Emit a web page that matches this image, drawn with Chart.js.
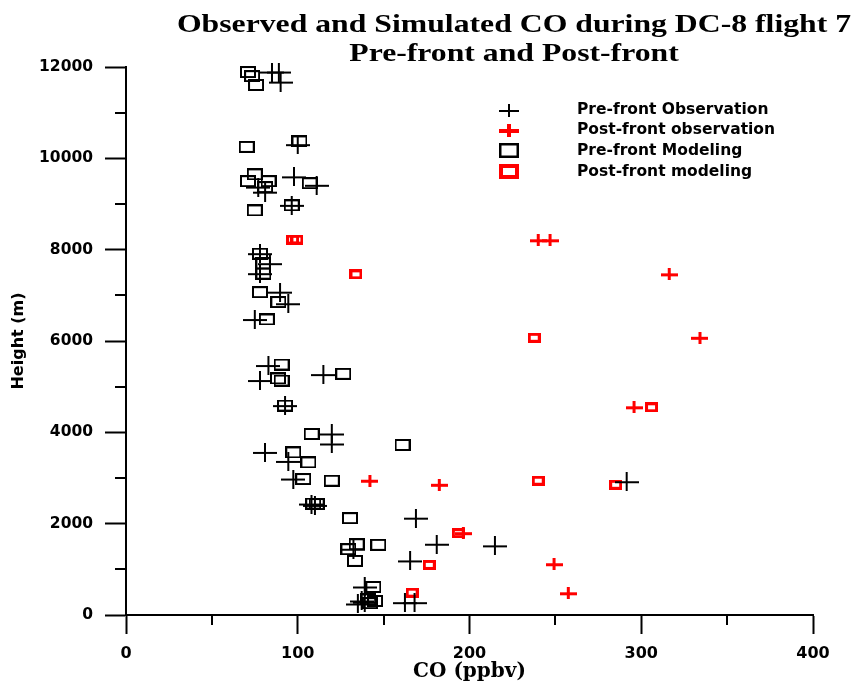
<!DOCTYPE html>
<html>
<head>
<meta charset="utf-8">
<title>Observed and Simulated CO during DC-8 flight 7</title>
<script src="https://cdn.jsdelivr.net/npm/chart.js@4.4.1/dist/chart.umd.min.js"></script>
<style>
  html, body { margin: 0; padding: 0; background: #ffffff; }
  #c { display: block; }
</style>
</head>
<body>
<canvas id="c" width="857" height="684"></canvas>
<script>
// ---- Data: CO mixing ratio (ppbv) against height (m) ----
const preObsCO     = [85, 89, 90, 100, 97.8, 111, 77, 81, 96.5, 78, 83.8, 78, 89.7, 94.5, 75,
                      82.9, 78, 114.9, 92.6, 119.8, 119.8, 80.9, 94.5, 97.4, 108, 110, 168.8,
                      132.4, 180.9, 214.8, 165.4, 139, 137.2, 139, 135, 162.4, 168, 291.5];
const preObsHeight = [11890, 11890, 11670, 10300, 9594, 9410, 9370, 9260, 8970, 7913, 7694, 7475, 7070, 6817, 6470,
                      5463, 5134, 5265, 4585, 3964, 3745, 3561, 3364, 2977, 2430, 2400, 2120,
                      1441, 1550, 1514, 1185, 614, 307, 280, 241, 270, 270, 2918];

const postObsCO     = [240, 246.9, 316.3, 334.2, 295.8, 142, 182.4, 196.4, 249.2, 257.5];
const postObsHeight = [8205, 8205, 7459, 6070, 4548, 2940, 2852, 1792, 1112, 476];

const preModCO     = [71, 73.4, 75.7, 101, 70.3, 71, 75, 81, 83, 107, 75, 96.5, 78, 80, 80, 78, 88.7, 82,
                      90.6, 90.6, 88.5, 126.5, 92.6, 108.1, 161, 97.4, 106.2, 103.2, 119.8, 109, 111, 130.4,
                      129.5, 134.3, 146.9, 133.3, 144, 141, 145, 142];
const preModHeight = [11890, 11800, 11606, 10370, 10250, 9500, 9650, 9370, 9500, 9455, 8860, 8970, 7913, 7700, 7475, 7070, 6853, 6472,
                      5485, 5134, 5180, 5281, 4585, 3964, 3723, 3561, 3342, 2977, 2940, 2440, 2430, 2120,
                      1441, 1550, 1536, 1185, 614, 344, 307, 260];

const postModCO     = [97, 99.5, 133.9, 237.7, 306, 240, 285.1, 193.5, 176.6, 166.6];
const postModHeight = [8220, 8220, 7459, 6070, 4548, 2940, 2852, 1792, 1097, 489];

const seriesLabels = ['Pre-front Observation', 'Post-front observation', 'Pre-front Modeling', 'Post-front modeling'];
const titleLines   = ['Observed and Simulated CO during DC-8 flight 7', 'Pre-front and Post-front'];

const xMajorTicks = [0, 100, 200, 300, 400];
const xMinorTicks = [50, 150, 250, 350];
const yMajorTicks = [0, 2000, 4000, 6000, 8000, 10000, 12000];
const yMinorTicks = [1000, 3000, 5000, 7000, 9000, 11000];

// ---- Marker images ----
function crossMarker(w, h, lw, color) {
  const c = document.createElement('canvas');
  c.width = w; c.height = h;
  const g = c.getContext('2d');
  g.fillStyle = color;
  g.fillRect(0, Math.round((h - lw) / 2), w, lw);
  g.fillRect(Math.round((w - lw) / 2), 0, lw, h);
  return c;
}
function boxMarker(w, h, lw, color) {
  const c = document.createElement('canvas');
  c.width = w; c.height = h;
  const g = c.getContext('2d');
  g.strokeStyle = color;
  g.lineWidth = lw;
  g.strokeRect(lw / 2, lw / 2, w - lw, h - lw);
  return c;
}

const RED = '#ff0000';
const BLACK = '#000000';

const plotMarkers = [
  crossMarker(24, 19, 2, BLACK),
  crossMarker(17, 12, 3, RED),
  boxMarker(16, 12, 2, BLACK),
  boxMarker(13, 10, 3, RED)
];
const keyMarkers = [
  crossMarker(20, 13, 2, BLACK),
  crossMarker(20, 13, 4, RED),
  boxMarker(20, 15, 2.5, BLACK),
  boxMarker(20, 15, 4, RED)
];

function toPoints(xs, ys) { return xs.map((v, i) => ({ x: v, y: ys[i] })); }

// ---- Plugins: title, key, minor ticks ----
const headerPlugin = {
  id: 'header',
  afterDraw(chart) {
    const ctx = chart.ctx;
    ctx.save();
    ctx.fillStyle = BLACK;
    ctx.font = 'bold 26px "Liberation Serif", "Times New Roman", serif';
    ctx.textAlign = 'center';
    ctx.textBaseline = 'middle';
    const rows = [25, 54];
    titleLines.forEach((t, i) => {
      ctx.save();
      ctx.translate(514, rows[i]);
      ctx.scale(1.22, 1);
      ctx.fillText(t, 0, 0);
      ctx.restore();
    });
    ctx.restore();
  }
};

const keyPlugin = {
  id: 'key',
  afterDraw(chart) {
    const ctx = chart.ctx;
    const rows = [110, 130, 150.5, 171.5];
    ctx.save();
    ctx.fillStyle = BLACK;
    ctx.font = 'bold 15.5px "DejaVu Sans", sans-serif';
    ctx.textAlign = 'left';
    ctx.textBaseline = 'middle';
    chart.data.datasets.forEach((ds, i) => {
      const m = keyMarkers[i];
      ctx.drawImage(m, Math.round(509 - m.width / 2), Math.round(rows[i] - m.height / 2));
      ctx.fillText(ds.label, 577, rows[i]);
    });
    ctx.restore();
  }
};

const minorTickPlugin = {
  id: 'minorTicks',
  afterDraw(chart) {
    const { ctx, scales: { x, y } } = chart;
    ctx.save();
    ctx.strokeStyle = BLACK;
    ctx.lineWidth = 2;
    xMinorTicks.forEach(v => {
      const px = Math.round(x.getPixelForValue(v));
      ctx.beginPath(); ctx.moveTo(px, x.top); ctx.lineTo(px, x.top + 10); ctx.stroke();
    });
    yMinorTicks.forEach(v => {
      const py = Math.round(y.getPixelForValue(v));
      ctx.beginPath(); ctx.moveTo(y.right, py); ctx.lineTo(y.right - 11, py); ctx.stroke();
    });
    ctx.restore();
  }
};

const tickFont = { family: '"DejaVu Sans", sans-serif', size: 16, weight: 'bold' };

new Chart(document.getElementById('c'), {
  type: 'scatter',
  data: {
    datasets: [
      { label: seriesLabels[0], data: toPoints(preObsCO, preObsHeight), pointStyle: plotMarkers[0] },
      { label: seriesLabels[1], data: toPoints(postObsCO, postObsHeight), pointStyle: plotMarkers[1] },
      { label: seriesLabels[2], data: toPoints(preModCO, preModHeight), pointStyle: plotMarkers[2] },
      { label: seriesLabels[3], data: toPoints(postModCO, postModHeight), pointStyle: plotMarkers[3] }
    ].map(d => Object.assign(d, { pointRadius: 6, pointHoverRadius: 6, clip: false }))
  },
  options: {
    responsive: false,
    animation: false,
    events: [],
    layout: { padding: { top: 67, right: 44, left: 0, bottom: 0 } },
    plugins: {
      legend: { display: false },
      title: { display: false },
      tooltip: { enabled: false }
    },
    scales: {
      x: {
        type: 'linear',
        min: 0, max: 400,
        afterBuildTicks: s => { s.ticks = xMajorTicks.map(v => ({ value: v })); },
        afterFit: s => { s.height = 69; },
        grid: { drawOnChartArea: false, drawTicks: true, tickLength: 19, tickWidth: 2, tickColor: BLACK },
        border: { display: true, color: BLACK, width: 2 },
        ticks: { color: BLACK, font: tickFont, padding: 10, maxRotation: 0 },
        title: {
          display: true, text: 'CO (ppbv)', color: BLACK,
          font: { family: '"DejaVu Serif", serif', size: 20, weight: 'bold' },
          padding: { top: 0, bottom: 0 }
        }
      },
      y: {
        type: 'linear',
        min: 0, max: 12000,
        afterBuildTicks: s => { s.ticks = yMajorTicks.map(v => ({ value: v })); },
        afterFit: s => { s.width = 126; },
        grid: { drawOnChartArea: false, drawTicks: true, tickLength: 21, tickWidth: 2, tickColor: BLACK },
        border: { display: true, color: BLACK, width: 2 },
        ticks: { color: BLACK, font: { family: '"DejaVu Sans", sans-serif', size: 15.5, weight: 'bold' }, padding: 12, callback: v => String(v) },
        title: {
          display: true, text: 'Height (m)', color: BLACK,
          font: { family: '"DejaVu Sans", sans-serif', size: 16, weight: 'bold' },
          padding: { top: 9, bottom: 0 }
        }
      }
    }
  },
  plugins: [minorTickPlugin, headerPlugin, keyPlugin]
});
</script>
</body>
</html>
